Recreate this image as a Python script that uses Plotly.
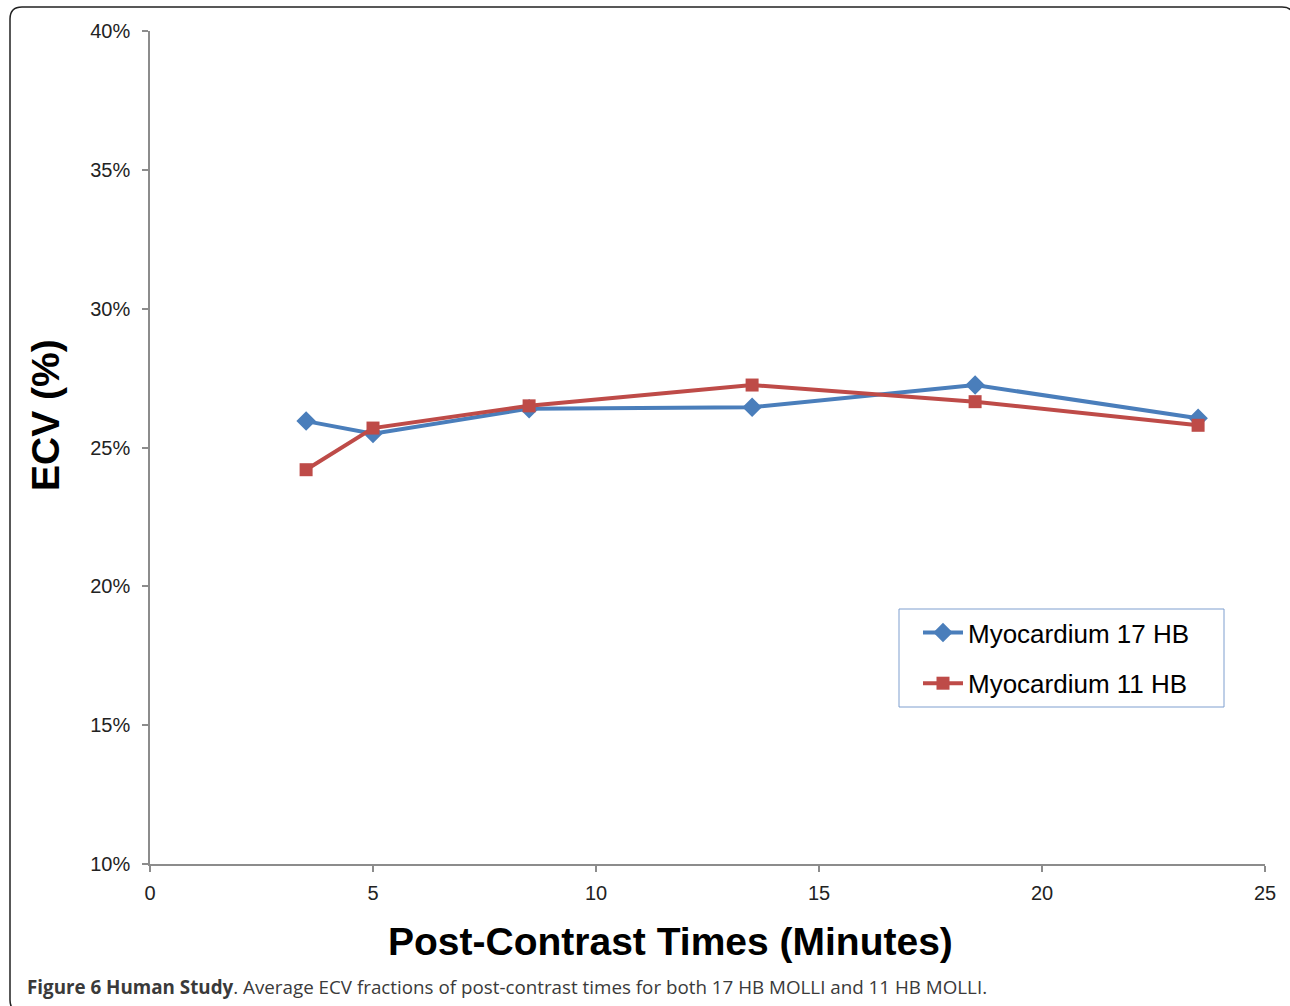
import plotly.graph_objects as go

times = [3.5, 5, 8.5, 13.5, 18.5, 23.5]
ecv_17hb = [0.2595, 0.2550, 0.2640, 0.2645, 0.2725, 0.2605]
ecv_11hb = [0.2420, 0.2570, 0.2650, 0.2725, 0.2665, 0.2580]
y_ticks = [0.10, 0.15, 0.20, 0.25, 0.30, 0.35, 0.40]
x_ticks = [0, 5, 10, 15, 20, 25]

W, H = 1290, 1006
L, R, T, B = 150, 1265, 31, 864

def px(x):
    return (x - L) / (R - L)

def py(y):
    return (B - y) / (B - T)

fig = go.Figure()
fig.add_trace(go.Scatter(
    x=times, y=ecv_17hb, name="Myocardium 17 HB", mode="lines+markers",
    legendgroup="a",
    line=dict(color="#4A7EBB", width=4),
    marker=dict(symbol="diamond", size=15, color="#4A7EBB"),
))
fig.add_trace(go.Scatter(
    x=times, y=ecv_11hb, name="Myocardium 11 HB", mode="lines+markers",
    legendgroup="b",
    line=dict(color="#BE4B48", width=4),
    marker=dict(symbol="square", size=13, color="#BE4B48"),
))

axis_font = dict(family="Liberation Sans, Arial, sans-serif", size=20, color="#222222")
fig.update_xaxes(
    range=[0, 25], tickvals=x_ticks, showgrid=False, zeroline=False,
    showline=True, linecolor="#8C8C8C", linewidth=1.5,
    ticks="outside", ticklen=6, tickcolor="#8C8C8C", tickwidth=1.5,
    tickfont=axis_font, ticklabelstandoff=4,
)
fig.update_yaxes(
    range=[0.10, 0.40], tickvals=y_ticks, tickformat=".0%", showgrid=False, zeroline=False,
    showline=True, linecolor="#8C8C8C", linewidth=1.5,
    ticks="outside", ticklen=6, tickcolor="#8C8C8C", tickwidth=1.5,
    tickfont=axis_font, ticklabelstandoff=8,
)

# outer rounded frame
r = 12
x0, y0, x1, y1 = 10, 7, 1294, 1012
path = (f"M {px(x0)},{py(y0 + r)} Q {px(x0)},{py(y0)} {px(x0 + r)},{py(y0)} "
        f"L {px(x1 - r)},{py(y0)} Q {px(x1)},{py(y0)} {px(x1)},{py(y0 + r)} "
        f"L {px(x1)},{py(y1 - r)} Q {px(x1)},{py(y1)} {px(x1 - r)},{py(y1)} "
        f"L {px(x0 + r)},{py(y1)} Q {px(x0)},{py(y1)} {px(x0)},{py(y1 - r)} Z")
fig.add_shape(type="path", path=path, xref="paper", yref="paper",
              line=dict(color="#222222", width=1.5), layer="below")

# legend box outline
fig.add_shape(type="rect", xref="paper", yref="paper",
              x0=px(899), x1=px(1224), y0=py(707), y1=py(609),
              line=dict(color="#7F9FCF", width=1), fillcolor="white", layer="below")

fig.add_annotation(
    text="<b>Post-Contrast Times (Minutes)</b>", xref="paper", yref="paper",
    x=px(670), y=py(942), showarrow=False, xanchor="center", yanchor="middle",
    font=dict(family="Liberation Sans, Arial, sans-serif", size=39, color="#000000"),
)
fig.add_annotation(
    text="<b>ECV (%)</b>", xref="paper", yref="paper", textangle=-90,
    x=px(45), y=py(415), showarrow=False, xanchor="center", yanchor="middle",
    font=dict(family="Liberation Sans, Arial, sans-serif", size=39, color="#000000"),
)
fig.add_annotation(
    text="<b>Figure 6 Human Study</b>. Average ECV fractions of post-contrast times for both 17 HB MOLLI and 11 HB MOLLI.",
    xref="paper", yref="paper", x=px(25), y=py(987), showarrow=False,
    xanchor="left", yanchor="middle",
    font=dict(family="Open Sans, sans-serif", size=18.8, color="#3A3A3A"),
)

fig.update_layout(
    width=W, height=H, autosize=False,
    margin=dict(l=L, r=W - R, t=T, b=H - B),
    paper_bgcolor="white", plot_bgcolor="white",
    showlegend=True,
    legend=dict(
        x=px(918), y=py(609), xanchor="left", yanchor="top",
        bgcolor="rgba(0,0,0,0)", borderwidth=0,
        font=dict(family="Liberation Sans, Arial, sans-serif", size=26, color="#000000"),
        itemwidth=40, traceorder="grouped", tracegroupgap=14,
    ),
)

fig.write_html("out.html", config={"displayModeBar": False},
               post_script="document.body.style.margin='0px';")
